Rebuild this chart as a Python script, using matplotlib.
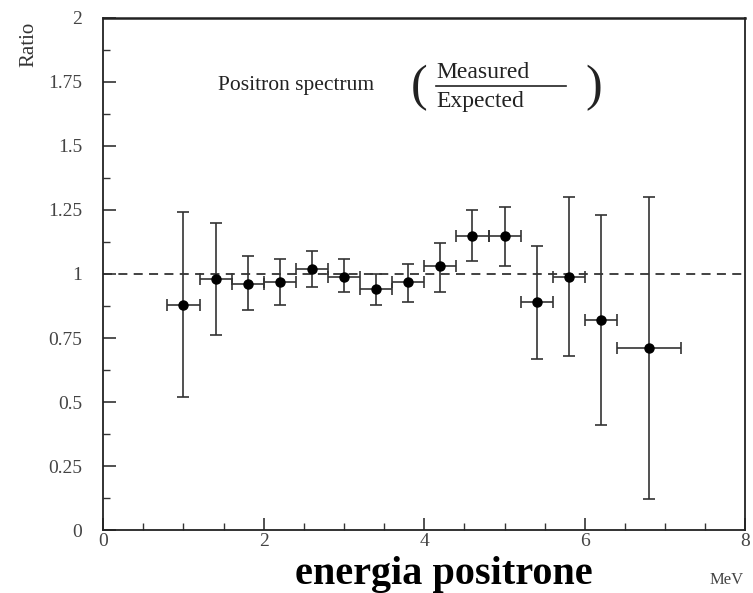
import numpy as np
import matplotlib.pyplot as plt
from matplotlib.lines import Line2D

# data
energy = [1.0, 1.4, 1.8, 2.2, 2.6, 3.0, 3.4, 3.8, 4.2, 4.6, 5.0, 5.4, 5.8, 6.2, 6.8]
ratio = [0.88, 0.98, 0.96, 0.97, 1.02, 0.99, 0.94, 0.97, 1.03, 1.15, 1.15, 0.89, 0.99, 0.82, 0.71]
err_up = [0.36, 0.22, 0.11, 0.09, 0.07, 0.07, 0.06, 0.07, 0.09, 0.10, 0.11, 0.22, 0.31, 0.41, 0.59]
err_dn = [0.36, 0.22, 0.10, 0.09, 0.07, 0.06, 0.06, 0.08, 0.10, 0.10, 0.12, 0.22, 0.31, 0.41, 0.59]
half_bin = [0.2, 0.2, 0.2, 0.2, 0.2, 0.2, 0.2, 0.2, 0.2, 0.2, 0.2, 0.2, 0.2, 0.2, 0.4]
yticks = [0, 0.25, 0.5, 0.75, 1, 1.25, 1.5, 1.75, 2]
ylabels = ['0', '0.25', '0.5', '0.75', '1', '1.25', '1.5', '1.75', '2']
xticks = [0, 2, 4, 6, 8]

plt.rcParams['font.family'] = ['Liberation Serif', 'DejaVu Serif']

fig = plt.figure(figsize=(7.53, 5.93), dpi=100)
ax = fig.add_axes([0.137, 0.106, 0.853, 0.864])

ax.axhline(1.0, color='#333333', lw=1.3, ls=(0, (5, 3.5)), zorder=1)
ax.errorbar(energy, ratio, yerr=[err_dn, err_up], xerr=half_bin, fmt='o',
            color='black', ecolor='#333333', elinewidth=1.2, capsize=4,
            capthick=1.2, markersize=6.5, zorder=3)

ax.set_xlim(0, 8)
ax.set_ylim(0, 2)
ax.set_xticks(xticks)
ax.set_xticks(np.arange(0, 8.01, 0.5), minor=True)
ax.set_yticks(yticks)
ax.set_yticklabels(ylabels)
ax.set_yticks(np.arange(0, 2.01, 0.125), minor=True)
ax.tick_params(which='both', direction='in', top=False, right=False,
               labelsize=14, colors='#333333', labelcolor='#444444')
ax.tick_params(which='major', length=9, width=1.2)
ax.tick_params(which='minor', length=5, width=1)
ax.tick_params(axis='x', pad=2)
ax.tick_params(axis='y', pad=15)
for s in ax.spines.values():
    s.set_linewidth(1.3)
    s.set_color('#222222')
ax.spines['top'].set_linewidth(1.8)

fig.text(0.038, 0.925, 'Ratio', rotation=90, fontsize=15, color='#333333',
         ha='center', va='center')

# annotation in the panel
fig.text(0.29, 0.855, 'Positron spectrum', fontsize=15.5, color='#222222',
         ha='left', va='center')
fig.text(0.557, 0.852, '(', fontsize=36, color='#222222', ha='center', va='center')
fig.text(0.788, 0.852, ')', fontsize=36, color='#222222', ha='center', va='center')
fig.text(0.579, 0.878, 'Measured', fontsize=17, color='#222222', ha='left', va='center')
fig.text(0.579, 0.828, 'Expected', fontsize=17, color='#222222', ha='left', va='center')
fig.add_artist(Line2D([0.579, 0.752], [0.855, 0.855], color='#222222', lw=1.2,
                      transform=fig.transFigure))

fig.text(0.59, 0.016, 'energia positrone', fontsize=29, fontweight='bold',
         color='black', ha='center', va='baseline')
fig.text(0.965, 0.022, 'MeV', fontsize=12, color='#444444', ha='center', va='center')

fig.savefig('out.png', dpi=100)
